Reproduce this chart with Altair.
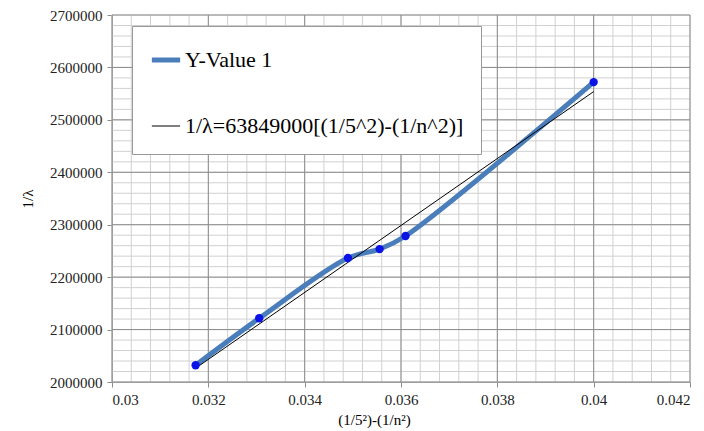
import altair as alt
import pandas as pd

# Data
x_vals = [0.031736, 0.033056, 0.034898, 0.035556, 0.036094, 0.04]
y_vals = [2032000, 2121500, 2236500, 2253500, 2278500, 2572000]
fit_x = [0.031736, 0.04]
fit_y = [2026300, 2553960]

series_names = ["Y-Value 1", "1/λ=63849000[(1/5^2)-(1/n^2)]"]

x_major = [0.03, 0.032, 0.034, 0.036, 0.038, 0.04, 0.042]
y_major = [2000000, 2100000, 2200000, 2300000, 2400000, 2500000, 2600000, 2700000]
x_minor = [round(0.03 + i * 0.0004, 4) for i in range(31)]
y_minor = [2000000 + i * 20000 for i in range(36)]

FONT = "Liberation Serif"
BLUE = "#4a7ebb"
DOT = "#0a14e6"

df = pd.DataFrame({"x": x_vals, "y": y_vals, "series": series_names[0]})
fit = pd.DataFrame({"x": fit_x, "y": fit_y, "series": series_names[1]})

xs = alt.Scale(domain=[0.03, 0.042], nice=False, zero=False)
ys = alt.Scale(domain=[2000000, 2700000], nice=False, zero=False)

color_scale = alt.Scale(domain=series_names, range=[BLUE, "black"])
sw_scale = alt.Scale(domain=series_names, range=[5, 1])

legend = alt.Legend(
    title=None, orient="none", legendX=20, legendY=11,
    symbolType="stroke", symbolSize=800,
    fillColor="white", strokeColor="#999999", padding=17,
    rowPadding=40, labelOffset=2, labelLimit=400,
)

xaxis = alt.Axis(
    values=x_major, labelExpr="format(datum.value, '~g')", grid=False,
    title="(1/5²)-(1/n²)", titlePadding=5, titleX=262,
)
yaxis = alt.Axis(
    values=y_major, format="d", grid=False,
    title="1/λ", titlePadding=14,
)

minor_x = alt.Chart(pd.DataFrame({"v": x_minor})).mark_rule(color="#d0d0d0", strokeWidth=1).encode(
    x=alt.X("v:Q", scale=xs, axis=xaxis))
minor_y = alt.Chart(pd.DataFrame({"v": y_minor})).mark_rule(color="#d0d0d0", strokeWidth=1).encode(
    y=alt.Y("v:Q", scale=ys, axis=yaxis))
major_x = alt.Chart(pd.DataFrame({"v": x_major})).mark_rule(color="#8c8c8c", strokeWidth=1).encode(
    x=alt.X("v:Q", scale=xs, axis=xaxis))
major_y = alt.Chart(pd.DataFrame({"v": y_major})).mark_rule(color="#8c8c8c", strokeWidth=1).encode(
    y=alt.Y("v:Q", scale=ys, axis=yaxis))

line = alt.Chart(df).mark_line(interpolate="catmull-rom").encode(
    x=alt.X("x:Q", scale=xs, axis=xaxis),
    y=alt.Y("y:Q", scale=ys, axis=yaxis),
    color=alt.Color("series:N", scale=color_scale, legend=legend),
    strokeWidth=alt.StrokeWidth("series:N", scale=sw_scale, legend=legend),
)
fitline = alt.Chart(fit).mark_line().encode(
    x=alt.X("x:Q", scale=xs, axis=xaxis),
    y=alt.Y("y:Q", scale=ys, axis=yaxis),
    color=alt.Color("series:N", scale=color_scale, legend=legend),
    strokeWidth=alt.StrokeWidth("series:N", scale=sw_scale, legend=legend),
)
points = alt.Chart(df).mark_circle(size=70, color=DOT, opacity=1).encode(
    x=alt.X("x:Q", scale=xs, axis=xaxis),
    y=alt.Y("y:Q", scale=ys, axis=yaxis),
)

chart = alt.layer(minor_x, minor_y, major_x, major_y, line, fitline, points).properties(
    width=578, height=367,
    autosize=alt.AutoSizeParams(type="none"),
    padding={"left": 104, "top": 7, "right": 6, "bottom": 46},
).configure(
    background="white", font=FONT
).configure_view(stroke=None).configure_axis(
    labelFont=FONT, labelFontSize=15, labelColor="#222222",
    titleFont=FONT, titleFontSize=15, titleFontWeight="normal", titleColor="black",
    domainColor="#8c8c8c", tickColor="#8c8c8c", tickSize=5, labelPadding=5,
).configure_legend(
    labelFont=FONT, labelFontSize=22, labelColor="black",
)

chart.save("out.html", embed_options={"renderer": "svg", "actions": False})
